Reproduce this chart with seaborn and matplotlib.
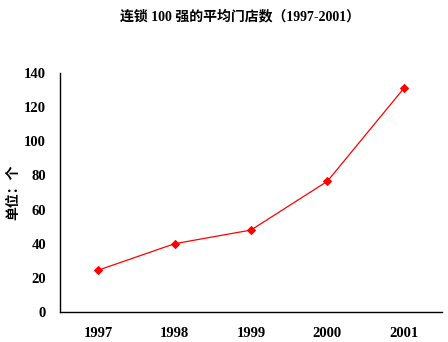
import matplotlib
matplotlib.use("Agg")
import matplotlib.pyplot as plt
import seaborn as sns
import pandas as pd
from matplotlib.ticker import FixedLocator

years = ["1997", "1998", "1999", "2000", "2001"]
avg_stores = [24.5, 40.0, 48.0, 76.6, 131.0]
y_ticks = [0, 20, 40, 60, 80, 100, 120, 140]

title = "连锁 100 强的平均门店数（1997-2001）"
y_label = "单位：个"

sns.set_theme(style="white", rc={
    "text.color": "black",
    "axes.labelcolor": "black",
    "xtick.color": "black",
    "ytick.color": "black",
    "axes.edgecolor": "black",
})
plt.rcParams["font.family"] = ["Liberation Serif", "Noto Sans CJK SC"]
plt.rcParams["font.weight"] = "bold"

df = pd.DataFrame({"year": years, "stores": avg_stores})

fig = plt.figure(figsize=(4.48, 3.42), dpi=100)
ax = fig.add_axes([60 / 448, 1 - 312 / 342, (442 - 60) / 448, (312 - 73) / 342])

sns.lineplot(data=df, x=list(range(len(years))), y="stores", ax=ax,
             color="#ff0000", linewidth=0.9, marker="D", markersize=4.5,
             markeredgecolor="#ff0000", markerfacecolor="#ff0000")

ax.set_xlim(-0.5, len(years) - 0.5)
ax.set_ylim(0, 140)
ax.set_yticks(y_ticks)
ax.set_yticklabels([str(v) for v in y_ticks], fontsize=10.5, fontweight="bold",
                   family=["Liberation Serif"], color="black")
ax.set_xticks(range(len(years)))
ax.set_xticklabels(years, fontsize=10.5, fontweight="bold",
                   family=["Liberation Serif"], color="black")
ax.xaxis.set_minor_locator(FixedLocator([i + 0.5 for i in range(len(years))]))

ax.tick_params(axis="x", which="major", length=0, pad=11)
ax.tick_params(axis="x", which="minor", length=4, width=1, direction="in", color="black")
ax.tick_params(axis="y", which="major", length=4, width=1, direction="in", color="black", pad=10)

for side in ("top", "right"):
    ax.spines[side].set_visible(False)
for side in ("left", "bottom"):
    ax.spines[side].set_color("black")
    ax.spines[side].set_linewidth(1)

ax.set_xlabel("")
ax.set_ylabel(y_label, fontsize=10, fontweight="bold", color="black",
              family=["Noto Sans CJK SC", "DejaVu Sans"])
ax.yaxis.set_label_coords(-40 / 382, 0.5)

fig.text(240 / 448, 1 - 16 / 342, title, ha="center", va="center", color="black",
         fontsize=10, fontweight="bold", family=["Liberation Serif", "Noto Sans CJK SC"])

fig.savefig("out.png", dpi=100, facecolor="white")
